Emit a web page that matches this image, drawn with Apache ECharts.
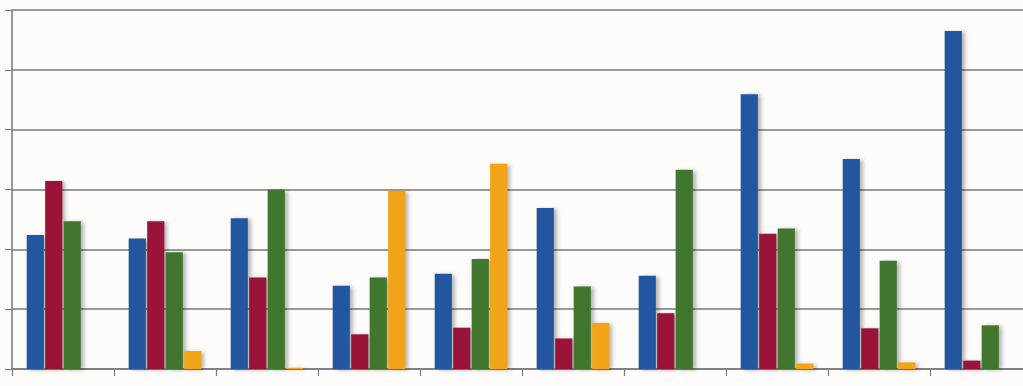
<!DOCTYPE html>
<html>
<head>
<meta charset="utf-8">
<script src="https://cdn.jsdelivr.net/npm/echarts@6/dist/echarts.min.js"></script>
<style>
html,body{margin:0;padding:0;background:#fdfcfb;overflow:hidden;}
#wrap{width:1023px;height:386px;overflow:hidden;}
#chart{width:1032px;height:386px;}
</style>
</head>
<body>
<div id="wrap"><div id="chart"></div></div>
<script>
const categories = ['1','2','3','4','5','6','7','8','9','10'];
const seriesBlue    = [2.24, 2.18, 2.52, 1.39, 1.59, 2.69, 1.56, 4.59, 3.51, 5.65];
const seriesCrimson = [3.14, 2.47, 1.53, 0.58, 0.69, 0.51, 0.93, 2.26, 0.68, 0.14];
const seriesGreen   = [2.47, 1.95, 3.00, 1.53, 1.84, 1.38, 3.33, 2.35, 1.81, 0.73];
const seriesOrange  = [null, 0.30, 0.02, 2.98, 3.43, 0.77, null, 0.09, 0.11, null];
const yTicks = [0, 1, 2, 3, 4, 5, 6];

const colors = ['#22579f', '#9a1439', '#41762f', '#f1a417'];
const chart = echarts.init(document.getElementById('chart'), null, {renderer: 'canvas'});

function mk(data, i) {
  return {
    type: 'bar',
    data: data,
    barGap: '7.5%',
    barCategoryGap: '28.8%',
    itemStyle: {
      color: colors[i],
      shadowColor: 'rgba(0,0,0,0.28)',
      shadowBlur: 4,
      shadowOffsetX: 3,
      shadowOffsetY: 1
    },
    silent: true,
    animation: false
  };
}

chart.setOption({
  backgroundColor: '#fdfcfb',
  animation: false,
  grid: {left: 12, right: 0, top: 10, bottom: 17, containLabel: false, outerBoundsMode: 'none'},
  xAxis: {
    type: 'category',
    data: categories,
    boundaryGap: true,
    axisLine: {show: true, lineStyle: {color: '#7a7a7a', width: 1.5}},
    axisTick: {show: true, inside: false, length: 7, alignWithLabel: false, lineStyle: {color: '#7a7a7a', width: 1.2}},
    axisLabel: {show: false},
    splitLine: {show: false}
  },
  yAxis: {
    type: 'value',
    min: yTicks[0],
    max: yTicks[yTicks.length - 1],
    interval: 1,
    axisLine: {show: true, lineStyle: {color: '#7a7a7a', width: 1.5}},
    axisTick: {show: true, inside: false, length: 7, lineStyle: {color: '#7a7a7a', width: 1.2}},
    axisLabel: {show: false},
    splitLine: {show: true, lineStyle: {color: '#7a7a7a', width: 1.5}}
  },
  series: [mk(seriesBlue, 0), mk(seriesCrimson, 1), mk(seriesGreen, 2), mk(seriesOrange, 3)]
});
</script>
</body>
</html>
